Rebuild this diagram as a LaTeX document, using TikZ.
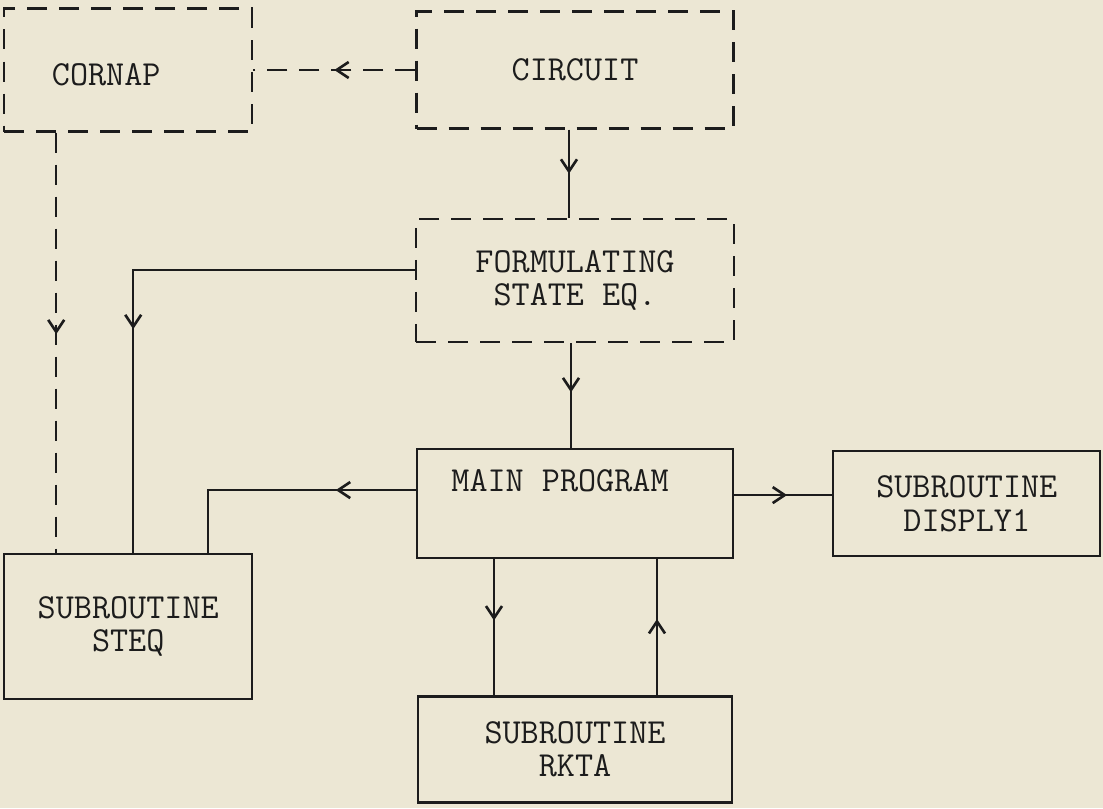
\documentclass[tikz,border=0pt]{standalone}
\usepackage{fontspec}
\usetikzlibrary{arrows.meta, positioning, decorations.markings}
\definecolor{paper}{RGB}{236,231,212}
\definecolor{ink}{RGB}{28,28,28}
\tikzset{
  txt/.style ={font=\ttfamily\fontsize{20}{19}\selectfont\addfontfeature{LetterSpace=15},
               text=ink, align=center},
  blk/.style ={rectangle, draw=ink, line width=1.3pt, txt, inner sep=0pt},
  dblk/.style={blk, dash pattern=on 0.4cm off 0.24cm},
  wire/.style={draw=ink, line width=1.3pt},
  dwire/.style={wire, dash pattern=on 0.4cm off 0.24cm},
  mid/.style ={postaction={decorate, decoration={markings,
               mark=at position #1 with {\arrow[line width=1.5pt]{Straight Barb[length=2.4mm, width=3.2mm]}}}}}
}
\begin{document}
\begin{tikzpicture}[node distance=1.8cm and 2cm]
    \useasboundingbox[fill=paper] (0,0) rectangle (22.06,-16.16);
    % boxes
    \node[dblk, minimum width=6.34cm, minimum height=2.34cm] (circuit) at (11.5,-1.40) {CIRCUIT};
    \node[dblk, minimum width=4.96cm, minimum height=2.46cm, left=3.24cm of circuit,
          label={[txt, xshift=-0.44cm, yshift=-0.1cm]center:CORNAP}] (cornap) {};
    \node[dblk, minimum width=6.36cm, minimum height=2.46cm, below=1.76cm of circuit] (formul) {FORMULATING\\STATE EQ.};
    \node[blk, minimum width=6.32cm, minimum height=2.18cm, below=2.1cm of formul,
          label={[txt, xshift=-0.3cm, yshift=0.45cm]center:MAIN PROGRAM}] (main) {};
    \node[blk, minimum width=5.34cm, minimum height=2.10cm, right=1.96cm of main] (displ) {SUBROUTINE\\DISPLY1};
    \node[blk, minimum width=6.28cm, minimum height=2.12cm, below=2.72cm of main] (rkta) {SUBROUTINE\\RKTA};
    \node[blk, minimum width=4.96cm, minimum height=2.9cm, below=8.4cm of cornap] (steq) {SUBROUTINE\\STEQ};
    % connectors
    \draw[dwire, mid=0.5] (circuit.west) -- (circuit.west -| cornap.east);
    \draw[dwire, mid=0.48] ([xshift=-1.44cm]cornap.south) -- ([xshift=-1.44cm]steq.north);
    \draw[wire, mid=0.5] ([xshift=-0.12cm]circuit.south) -- ([xshift=-0.12cm]formul.north);
    \draw[wire, mid=6.82cm] ([yshift=0.21cm]formul.west) -| ([xshift=0.1cm]steq.north);
    \draw[wire, mid=0.47] ([xshift=-0.08cm]formul.south) -- ([xshift=-0.08cm]main.north);
    \draw[wire, mid=1.6cm] ([yshift=0.27cm]main.west) -| ([xshift=1.6cm]steq.north);
    \draw[wire, mid=0.54] ([yshift=0.17cm]main.east) -- ([yshift=0.17cm]displ.west);
    \draw[wire, mid=0.45] ([xshift=-1.62cm]main.south) -- ([xshift=-1.62cm]rkta.north);
    \draw[wire, mid=0.56] ([xshift=1.64cm]rkta.north) -- ([xshift=1.64cm]main.south);
\end{tikzpicture}
\end{document}
